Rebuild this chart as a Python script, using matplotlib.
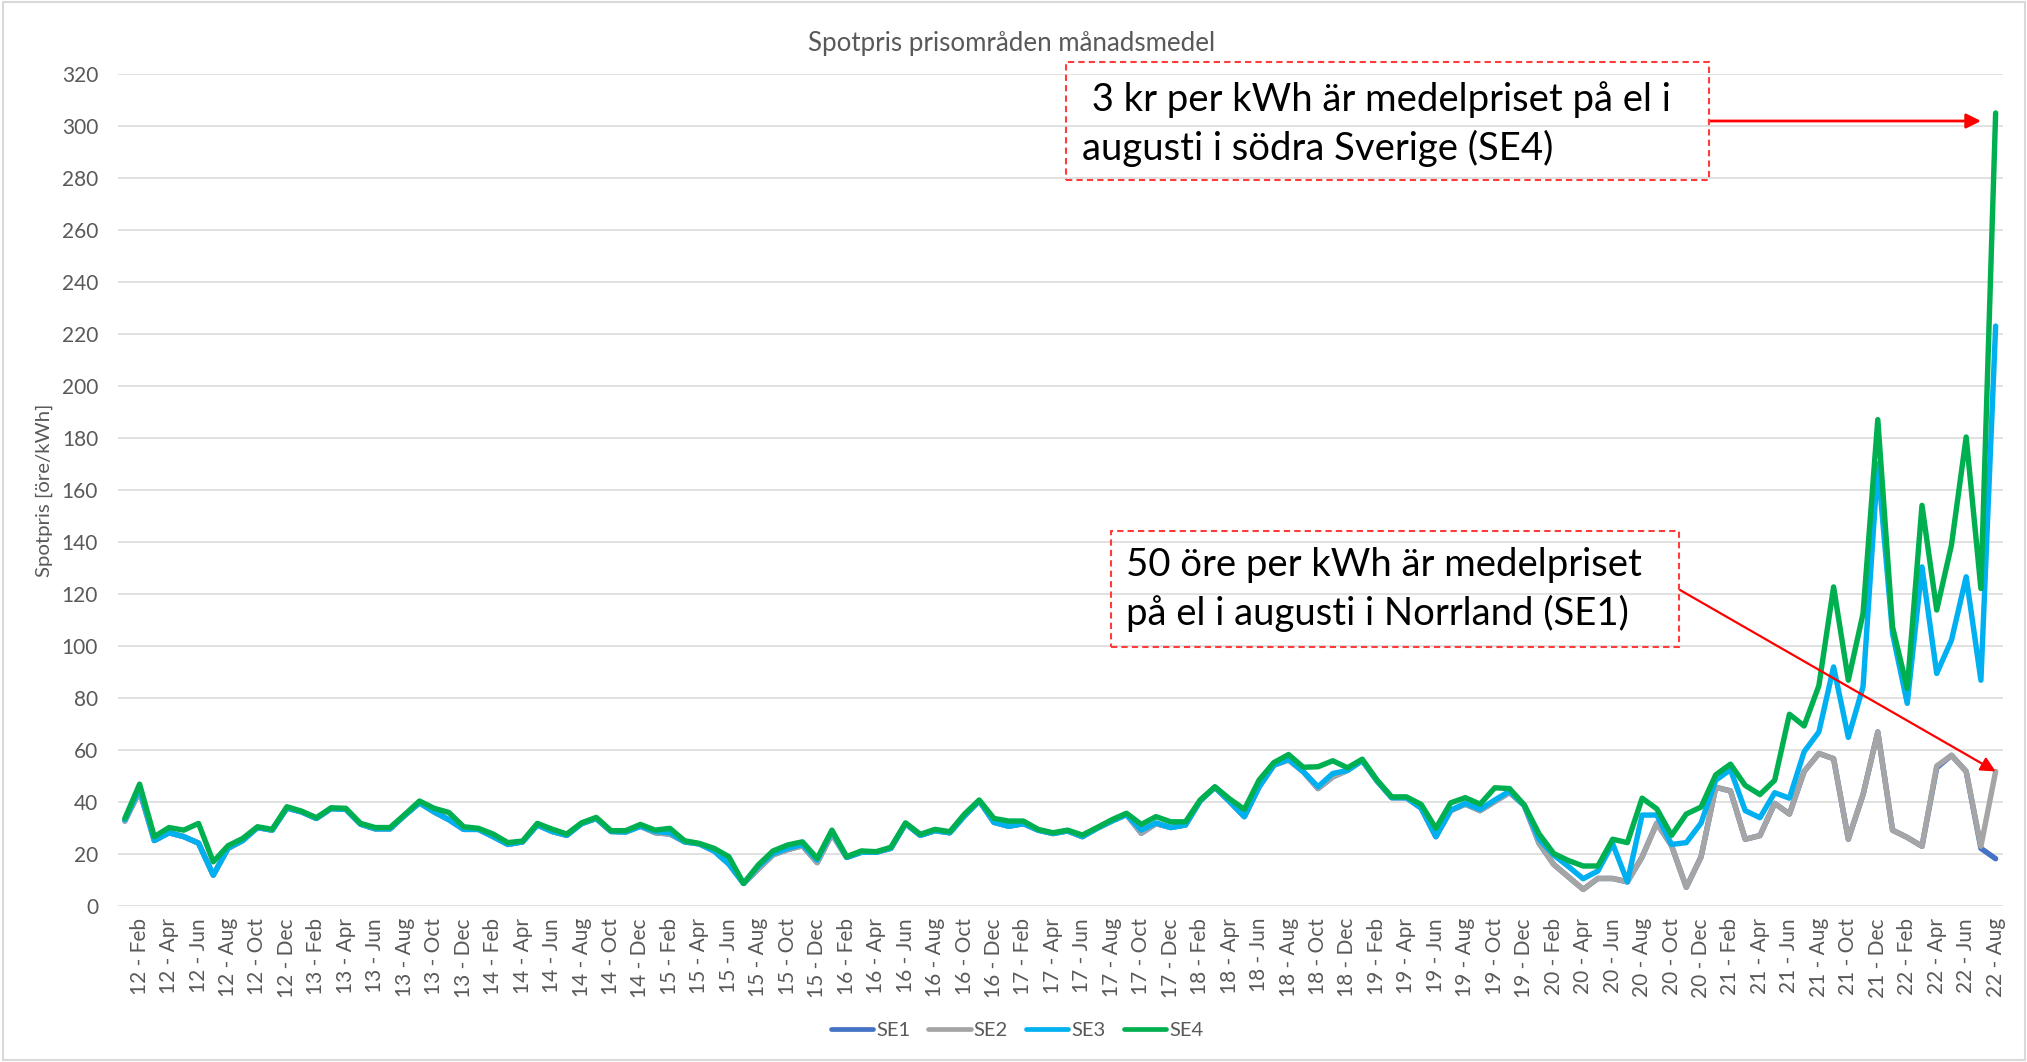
import matplotlib
matplotlib.use("Agg")
import matplotlib.pyplot as plt
from matplotlib.patches import Rectangle

W, H = 2027, 1062
plt.rcParams['font.family'] = ['Lato', 'DejaVu Sans']

# ---------------- data ----------------
years = ["12", "13", "14", "15", "16", "17", "18", "19", "20", "21", "22"]
month_names = ["Jan", "Feb", "Mar", "Apr", "May", "Jun",
               "Jul", "Aug", "Sep", "Oct", "Nov", "Dec"]
categories = [f"{y} - {m}" for y in years for m in month_names][:128]

se1 = [32.5, 44, 25, 28, 26.5, 24, 11.7, 22, 25, 30, 29, 37.5,
       36, 33.5, 37.3, 37, 31.3, 29.5, 29.5, 34.7, 39.5, 36, 33, 29.3,
       29.3, 26.5, 23.5, 24.5, 31, 28.5, 27, 31.5, 33.5, 28.5, 28.3, 30.5,
       28, 27.5, 24.5, 23.7, 21, 16, 8.5, 14, 19.5, 21.5, 23, 16.5,
       27.5, 18.5, 20.5, 20.5, 22, 31.5, 27, 28.8, 28, 34.5, 40.3, 32,
       30.5, 31.5, 29, 27.7, 28.7, 26.5, 29.7, 32.5, 35, 27.8, 31.5, 30,
       31, 40.3, 45.5, 40, 34.2, 45.7, 54, 56, 51.5, 45, 49.5, 52,
       55.8, 48, 41.5, 41.5, 37.5, 26.5, 36.5, 39, 36.5, 40, 43.5, 38.5,
       24, 15.8, 11, 6.2, 10.4, 10.4, 9.1, 18.7, 31.7, 23, 7, 18.7,
       45.5, 44.1, 25.5, 26.9, 39.3, 35.2, 51.6, 58.5, 56.5, 25.5, 42.7, 66.8,
       29, 26.2, 22.8, 53.0, 57.8, 51.6, 22.0, 18.0]

se2 = [32.5, 44, 25, 28, 26.5, 24, 11.7, 22, 25, 30, 29, 37.5,
       36, 33.5, 37.3, 37, 31.3, 29.5, 29.5, 34.7, 39.5, 36, 33, 29.3,
       29.3, 26.5, 23.5, 24.5, 31, 28.5, 27, 31.5, 33.5, 28.5, 28.3, 30.5,
       28, 27.5, 24.5, 23.7, 21, 16, 8.5, 14, 19.5, 21.5, 23, 16.5,
       27.5, 18.5, 20.5, 20.5, 22, 31.5, 27, 28.8, 28, 34.5, 40.3, 32,
       30.5, 31.5, 29, 27.7, 28.7, 26.5, 29.7, 32.5, 35, 27.8, 31.5, 30,
       31, 40.3, 45.5, 40, 34.2, 45.7, 54, 56, 51.5, 45, 49.5, 52,
       55.8, 48, 41.5, 41.5, 37.5, 26.5, 36.5, 39, 36.5, 40, 43.5, 38.5,
       24, 15.8, 11, 6.2, 10.4, 10.4, 9.1, 18.7, 31.7, 23, 7, 18.7,
       45.5, 44.1, 25.5, 26.9, 39.3, 35.2, 51.6, 58.5, 56.5, 25.5, 42.7, 66.8,
       29, 26.2, 22.8, 53.7, 57.8, 51.6, 22.8, 51.6]

se3 = [33, 45, 25, 28, 26.5, 24, 11.7, 22, 25, 30, 29, 37.5,
       36, 33.5, 37.3, 37, 31.3, 29.5, 29.5, 34.7, 39.5, 36, 33, 29.3,
       29.3, 26.5, 23.5, 24.5, 31, 28.5, 27, 31.5, 33.5, 28.5, 28.3, 30.5,
       28.5, 28, 24.5, 23.7, 21, 16, 8.5, 15, 20, 22, 23.5, 17.5,
       28.5, 18.5, 20.5, 20.5, 22, 31.5, 27, 28.8, 28, 34.5, 40.3, 32,
       30.5, 31.5, 29, 27.7, 28.7, 26.5, 29.7, 32.5, 35, 29, 31.8, 30,
       31, 40.3, 45.5, 40, 34.2, 45.7, 54, 56.3, 51.5, 45.7, 50.8, 52,
       55.8, 48, 41.5, 41.5, 37.5, 26.5, 36.7, 39.3, 37, 40.6, 44, 38.5,
       25.6, 19.4, 15, 10.3, 13.3, 23.8, 9.1, 34.8, 34.8, 23.5, 24.2, 31.7,
       48.2, 52.3, 36.5, 33.8, 43.4, 41.3, 59.2, 66.8, 91.8, 64.7, 84.2, 170,
       104.7, 77.8, 130.3, 89.3, 102.1, 126.5, 86.7, 223]

se4 = [33.5, 46.7, 26.5, 30.0, 29.0, 31.6, 16.8, 23.0, 25.8, 30.3, 29.3, 38.0,
       36.3, 33.8, 37.6, 37.4, 31.6, 30.0, 30.0, 35.0, 40.2, 37.4, 35.8, 30.3,
       29.7, 27.5, 24.2, 24.8, 31.6, 29.4, 27.5, 31.8, 33.9, 28.8, 28.8, 31.2,
       29.0, 29.7, 24.9, 23.9, 22.0, 18.8, 8.5, 15.6, 21.0, 23.3, 24.5, 18.1,
       29.0, 18.8, 21.0, 20.7, 22.4, 31.8, 27.4, 29.3, 28.4, 35.2, 40.6, 33.5,
       32.5, 32.5, 29.3, 28.0, 29.0, 27.1, 30.0, 33.0, 35.5, 31.2, 34.2, 32.2,
       32.2, 40.6, 45.7, 41.0, 37.0, 48.3, 55.0, 58.1, 53.2, 53.4, 55.7, 53.0,
       56.3, 48.3, 41.8, 41.8, 38.9, 29.7, 39.5, 41.5, 39.0, 45.3, 45.0, 38.7,
       27.6, 20.0, 17.3, 15.2, 15.2, 25.5, 24.2, 41.3, 37.2, 27.0, 35.2, 37.9,
       50.3, 54.4, 46.2, 42.7, 48.2, 73.6, 69.1, 84.6, 122.6, 86.7, 112.4, 187.0,
       107.2, 83.5, 154.0, 113.7, 138.7, 180.3, 122.0, 305.0]

series_names = ["SE1", "SE2", "SE3", "SE4"]
series_colors = ["#4472C4", "#A5A5A5", "#00B0F0", "#00B050"]

title = "Spotpris prisområden månadsmedel"
ylabel = "Spotpris [öre/kWh]"
note_se4 = [" 3 kr per kWh är medelpriset på el i", "augusti i södra Sverige (SE4)"]
note_se1 = ["50 öre per kWh är medelpriset", "på el i augusti i Norrland (SE1)"]


def fx(px):
    return px / W


def fy(py):
    return 1 - py / H


# ---------------- figure ----------------
fig = plt.figure(figsize=(W / 100, H / 100), dpi=100)
fig.patch.set_facecolor("white")

left, right, top, bottom = 117.5, 2003, 74, 905.5
ax = fig.add_axes([fx(left), fy(bottom), (right - left) / W, (bottom - top) / H])

x = list(range(len(categories)))
for vals, name, col in zip([se1, se2, se3, se4], series_names, series_colors):
    ax.plot(x, vals, color=col, lw=3.9, label=name,
            solid_joinstyle="round", solid_capstyle="round")

ax.set_xlim(-0.5, len(categories) - 0.5)
ax.set_ylim(0, 320)
ax.set_yticks(range(0, 321, 20))
ax.grid(axis="y", color="#D9D9D9", lw=1.1)
ax.grid(axis="x", visible=False)
ax.set_axisbelow(True)
for s in ax.spines.values():
    s.set_visible(False)
ax.set_xticks(x[1::2])
ax.set_xticklabels(categories[1::2], rotation=90)
ax.tick_params(axis="both", length=0, labelsize=15, labelcolor="#595959")
ax.tick_params(axis="y", pad=14)
ax.tick_params(axis="x", pad=9)

# titles
fig.text(fx(1012), fy(43), title, ha="center", va="center",
         fontsize=18.6, color="#595959")
fig.text(fx(44), fy(490), ylabel, rotation=90, ha="center", va="center",
         fontsize=14.7, color="#595959")

# legend
leg = fig.legend(loc="center", bbox_to_anchor=(fx(1017), fy(1030)), ncol=4,
                 frameon=False, fontsize=14.5, handlelength=2.1,
                 handletextpad=0.15, columnspacing=0.9, labelcolor="#595959")
for h in leg.legend_handles:
    h.set_linewidth(3.4)

# chart border
fig.add_artist(Rectangle((fx(2.5), fy(1059.5)), (2024.5 - 2.5) / W, (1059.5 - 1.5) / H,
                         transform=fig.transFigure, fill=False,
                         ec="#D9D9D9", lw=1.5))

# annotation boxes
red = "#FF3B3B"
for (x0, y0, x1, y1) in [(1065.5, 62.5, 1709, 180.5), (1110.5, 530.5, 1678.5, 647)]:
    fig.add_artist(Rectangle((fx(x0), fy(y1)), (x1 - x0) / W, (y1 - y0) / H,
                             transform=fig.transFigure, fill=False,
                             ec=red, lw=1.5, ls=(0, (3, 2))))

note_size = 27.5
fig.text(fx(1082), fy(100), note_se4[0], ha="left", va="center", fontsize=note_size, color="black")
fig.text(fx(1082), fy(148), note_se4[1], ha="left", va="center", fontsize=note_size, color="black")
fig.text(fx(1126), fy(565), note_se1[0], ha="left", va="center", fontsize=note_size, color="black")
fig.text(fx(1126), fy(613), note_se1[1], ha="left", va="center", fontsize=note_size, color="black")

# arrows
ax.annotate("", xy=(fx(1981), fy(121)), xycoords="figure fraction",
            xytext=(fx(1709), fy(121)), textcoords="figure fraction",
            arrowprops=dict(arrowstyle="-|>", color="red", lw=2,
                            mutation_scale=22, shrinkA=0, shrinkB=0))
ax.annotate("", xy=(len(se2) - 1, se2[-1]), xycoords="data",
            xytext=(fx(1680), fy(590)), textcoords="figure fraction",
            arrowprops=dict(arrowstyle="-|>", color="red", lw=1.6,
                            mutation_scale=22, shrinkA=0, shrinkB=0))

fig.savefig("out.png", dpi=100)
